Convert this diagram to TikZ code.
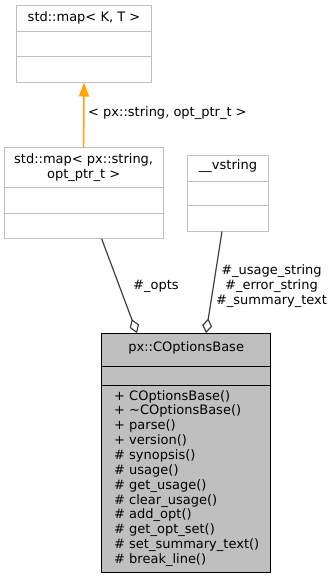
\documentclass[tikz,border=0pt]{standalone}
\usepackage{fontspec}
\setmainfont{DejaVu Sans}
\usetikzlibrary{arrows.meta,calc}
\definecolor{edgeorange}{HTML}{FFA500}

\begin{document}
\begin{tikzpicture}[x=1pt,y=-1pt,
    classbox/.style={draw=black!25,fill=white,line width=1pt,inner sep=0pt},
    mainbox/.style={draw=black,fill=black!25,line width=1pt,inner sep=0pt},
    txt/.style={font=\fontsize{13}{15}\selectfont,inner sep=0pt},
    inherit/.style={draw=edgeorange,line width=1.5pt,-{Triangle[length=14pt,width=10pt]}},
    usedby/.style={draw=black!75,line width=1.2pt,-{Diamond[open,length=15pt,width=10pt]}}]
  \useasboundingbox (0,0) rectangle (333,579);

  % base template
  \node (mapkt) at (84,43.85) [classbox,minimum width=134.6pt,minimum height=76.3pt] {};
  \draw[black!25,line width=1pt] (mapkt.west |- 0,31.7) -- (mapkt.east |- 0,31.7);
  \draw[black!25,line width=1pt] (mapkt.west |- 0,56.7) -- (mapkt.east |- 0,56.7);
  \node (mapkttitle) at (84,18) [txt] {std::map< K, T >};

  % instantiated map
  \node (opts) at (83.65,193) [classbox,minimum width=158.7pt,minimum height=90.6pt] {};
  \draw[black!25,line width=1pt] (opts.west |- 0,187.7) -- (opts.east |- 0,187.7);
  \draw[black!25,line width=1pt] (opts.west |- 0,213.3) -- (opts.east |- 0,213.3);
  \node (optstitle) at (83.65,167.5) [txt,align=center] {std::map< px::string,\\opt\_ptr\_t >};

  % string type
  \node (vstring) at (228,193) [classbox,minimum width=81.4pt,minimum height=76pt] {};
  \draw[black!25,line width=1pt] (vstring.west |- 0,181) -- (vstring.east |- 0,181);
  \draw[black!25,line width=1pt] (vstring.west |- 0,205.7) -- (vstring.east |- 0,205.7);
  \node (vstringtitle) at (228,166) [txt] {\_\_vstring};

  % the class itself
  \node (main) at (186.2,453.2) [mainbox,minimum width=169pt,minimum height=239pt] {};
  \draw[black,line width=1pt] (main.west |- 0,366.7) -- (main.east |- 0,366.7);
  \draw[black,line width=1pt] (main.west |- 0,385) -- (main.east |- 0,385);
  \node (maintitle) at (186.2,348.3) [txt] {px::COptionsBase};
  \node (members) at (114,478.35) [txt,anchor=west,align=left,font=\fontsize{13}{14.85}\selectfont]
    {+ COptionsBase()\\
     + \textasciitilde COptionsBase()\\
     + parse()\\
     + version()\\
     \# synopsis()\\
     \# usage()\\
     \# get\_usage()\\
     \# clear\_usage()\\
     \# add\_opt()\\
     \# get\_opt\_set()\\
     \# set\_summary\_text()\\
     \# break\_line()};

  % edges
  \draw[inherit] (opts.north) -- (mapkt.south);
  \node (tmplargs) at (88,113) [txt,anchor=west] {< px::string, opt\_ptr\_t >};

  \draw[usedby] ($(opts.south)+(18,0)$) -- ($(main.north)+(-49.2,0)$);
  \node (optslabel) at (133,286) [txt,anchor=west] {\#\_opts};

  \draw[usedby] ($(vstring.south)+(-6,0)$) -- ($(main.north)+(19.8,0)$);
  \node (stringlabel) at (271.5,285.7) [txt,align=center]
    {\#\_usage\_string\\\#\_error\_string\\\#\_summary\_text};
\end{tikzpicture}
\end{document}
